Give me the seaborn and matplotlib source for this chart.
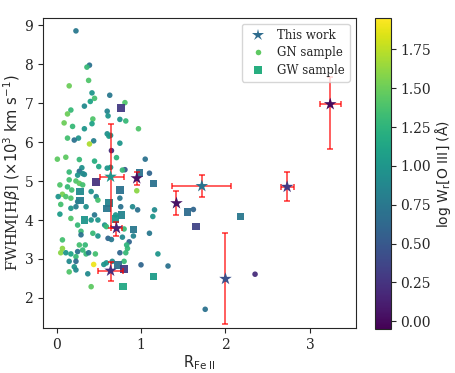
import numpy as np
import pandas as pd
import matplotlib
matplotlib.use("Agg")
import matplotlib.pyplot as plt
import seaborn as sns
from matplotlib.colors import Normalize
from matplotlib.cm import ScalarMappable
from matplotlib.lines import Line2D

# ---- GN sample (circles): R_FeII, FWHM, logW
gn_x = [0.23,0.39,0.36,0.38,0.15,0.42,0.45,0.40,0.63,0.81,0.33,0.17,0.13,0.60,0.61,0.43,0.75,0.82,0.09,0.42,
        0.19,0.33,0.97,0.60,0.62,0.64,0.13,0.26,0.21,0.44,0.39,0.75,0.65,0.01,0.11,0.27,0.45,0.71,1.05,0.30,
        0.50,0.60,0.64,0.81,0.15,0.27,0.31,1.10,0.78,
        0.25,0.33,0.15,0.23,0.27,0.31,0.04,0.13,0.18,0.41,0.07,0.02,0.11,0.17,0.47,0.49,0.75,0.25,0.23,0.05,
        0.17,0.04,0.35,0.76,0.90,0.96,1.16,0.70,0.45,0.17,0.41,0.49,1.14,0.25,0.57,0.59,0.80,1.10,0.29,
        0.07,0.29,0.43,0.49,0.61,0.65,0.78,0.86,0.91,0.27,0.34,0.31,0.07,0.05,0.11,0.17,0.25,0.23,0.35,0.38,
        0.46,0.75,0.82,0.84,0.83,1.20,0.15,0.23,0.44,0.56,0.59,0.66,0.80,1.00,0.15,0.21,0.23,0.37,0.41,1.32,
        1.62,1.76,2.35,0.95]
gn_y = [8.85,7.97,7.92,7.58,7.44,7.26,7.12,7.04,7.20,7.01,6.92,6.82,6.72,6.79,6.67,6.59,6.58,6.54,6.49,6.47,
        6.40,6.34,6.34,6.21,6.15,6.17,6.10,6.10,6.05,6.03,5.95,5.97,5.78,5.56,5.61,5.55,5.51,5.60,5.56,5.34,
        5.37,5.33,5.35,5.29,5.23,5.25,5.19,5.20,5.28,
        5.15,5.17,5.03,5.00,4.94,4.90,4.90,4.85,4.77,4.73,4.66,4.60,4.60,4.56,4.60,4.51,4.56,4.47,4.34,4.40,
        4.30,4.15,4.34,4.34,4.34,4.26,4.26,4.13,4.13,4.04,4.00,4.00,4.09,3.87,3.87,3.83,3.77,3.66,3.71,
        3.49,3.62,3.66,3.59,3.53,3.50,3.56,3.44,3.59,3.36,3.36,3.23,3.27,3.16,3.16,3.13,3.19,3.06,3.13,3.16,
        3.13,3.16,3.16,3.27,3.36,3.13,2.94,2.94,2.86,2.86,2.90,2.94,2.94,2.85,2.67,2.80,2.72,2.62,2.29,2.82,
        4.27,1.71,2.61,4.75]
gn_c = [0.75,0.70,1.30,1.40,1.50,1.00,1.35,1.10,0.75,1.40,0.90,1.30,1.50,0.85,1.00,1.40,1.00,1.30,1.50,1.10,
        1.30,1.00,1.40,0.95,1.05,1.00,1.35,1.00,0.70,0.80,1.70,1.00,0.20,1.45,1.45,1.30,1.20,1.25,0.70,0.95,
        1.15,1.00,1.00,0.50,1.30,0.70,0.90,0.60,1.30,
        1.00,0.90,1.35,1.40,1.45,1.35,1.40,1.30,1.35,0.95,1.55,1.00,1.40,1.40,0.90,1.35,0.75,0.75,0.80,1.35,
        1.00,1.05,0.95,0.70,0.90,0.70,0.90,1.00,0.75,1.40,1.00,1.00,1.00,1.30,1.00,1.30,1.30,0.75,1.30,
        1.35,0.70,1.30,1.00,0.60,0.75,0.90,0.60,0.85,1.35,1.30,1.30,1.60,1.60,1.00,1.10,0.70,1.30,1.30,0.75,
        1.35,0.60,1.30,1.30,1.25,1.00,0.90,0.65,1.90,1.00,1.00,0.90,1.30,0.60,1.40,1.00,0.90,0.90,1.45,0.70,
        0.60,0.70,0.20,1.60]

# ---- GW sample (squares)
gw_x = [0.76,0.98,0.47,1.15,1.55,1.65,0.75,0.28,0.28,0.62,0.60,0.77,0.33,0.70,0.91,0.73,0.80,1.15,0.79,2.18]
gw_y = [6.87,5.21,4.98,4.94,4.21,3.83,4.77,4.73,4.50,4.43,4.30,4.13,4.00,4.02,3.76,2.85,2.74,2.55,2.29,4.09]
gw_c = [0.30,0.70,0.25,0.70,0.65,0.35,0.70,0.90,0.80,0.85,0.75,0.85,1.00,1.00,0.75,0.70,0.30,1.05,1.15,0.75]

# ---- This work (stars) with asymmetric errors
tw_x = [0.64,0.95,1.72,1.42,0.71,0.64,2.73,2.00,3.24]
tw_y = [5.11,5.07,4.87,4.43,3.79,2.70,4.85,2.49,6.97]
tw_c = [1.00,0.05,0.70,0.05,0.15,0.20,0.30,0.45,0.00]
tw_xerr_lo = [0.13,0.00,0.35,0.00,0.06,0.15,0.07,0.00,0.12]
tw_xerr_hi = [0.16,0.00,0.35,0.00,0.06,0.15,0.08,0.00,0.13]
tw_yerr_lo = [1.32,0.17,0.27,0.30,0.20,0.26,0.36,1.16,1.15]
tw_yerr_hi = [1.35,0.17,0.28,0.31,0.17,0.23,0.37,1.17,0.69]

xticks = [0, 1, 2, 3]
yticks = [2, 3, 4, 5, 6, 7, 8, 9]
cbar_ticks = [0.00, 0.25, 0.50, 0.75, 1.00, 1.25, 1.50, 1.75]

sns.set_style("ticks")
plt.rcParams['font.family'] = ['DejaVu Serif']
plt.rcParams['mathtext.fontset'] = 'dejavusans'

gn = pd.DataFrame({"x": gn_x, "y": gn_y, "c": gn_c})
gw = pd.DataFrame({"x": gw_x, "y": gw_y, "c": gw_c})
tw = pd.DataFrame({"x": tw_x, "y": tw_y, "c": tw_c})

vmin, vmax = -0.05, 1.95
norm = Normalize(vmin, vmax)
cmap = plt.get_cmap("viridis")

fig = plt.figure(figsize=(4.55, 3.73), dpi=100)
ax = fig.add_axes([0.0945, 0.1206, 0.687, 0.8311])
cax = fig.add_axes([0.8235, 0.118, 0.0352, 0.833])

sns.scatterplot(data=gn, x="x", y="y", hue="c", palette="viridis", hue_norm=norm,
                marker="o", s=16, linewidth=0, alpha=0.95, legend=False, ax=ax, zorder=2)
sns.scatterplot(data=gw, x="x", y="y", hue="c", palette="viridis", hue_norm=norm,
                marker="s", s=30, linewidth=0, alpha=0.95, legend=False, ax=ax, zorder=3)
ax.errorbar(tw_x, tw_y, xerr=[tw_xerr_lo, tw_xerr_hi], yerr=[tw_yerr_lo, tw_yerr_hi],
            fmt="none", ecolor="red", elinewidth=1.1, capsize=2, capthick=1.1, alpha=0.8, zorder=4)
sns.scatterplot(data=tw, x="x", y="y", hue="c", palette="viridis", hue_norm=norm,
                marker="*", s=90, linewidth=0, legend=False, ax=ax, zorder=5)

ax.set_xlim(-0.16, 3.54)
ax.set_ylim(1.23, 9.18)
ax.set_xticks(xticks)
ax.set_yticks(yticks)
ax.tick_params(labelsize=10, length=3.5)
ax.set_xlabel(r"$\mathrm{R_{Fe\ II}}$", fontsize=10.5, labelpad=1)
ax.set_ylabel(r"FWHM[H$\beta$] $(\times10^3\ \mathrm{km\ s^{-1}})$", fontsize=10.5, labelpad=1)

handles = [
    Line2D([], [], marker="*", linestyle="none", markersize=9, color=cmap(norm(0.65)), markeredgewidth=0),
    Line2D([], [], marker="o", linestyle="none", markersize=4, color=cmap(norm(1.45)), markeredgewidth=0),
    Line2D([], [], marker="s", linestyle="none", markersize=6, color=cmap(norm(1.2)), markeredgewidth=0),
]
ax.legend(handles, ["This work", "GN sample", "GW sample"], loc="upper right",
          fontsize=8.5, handletextpad=0.6, borderpad=0.4, labelspacing=0.4, framealpha=0.8)

sm = ScalarMappable(norm=norm, cmap=cmap)
cb = fig.colorbar(sm, cax=cax, ticks=cbar_ticks)
cb.ax.tick_params(labelsize=10)
cb.set_label(r"$\mathrm{log\ W_r[O\ III]\ (\AA)}$", fontsize=10, labelpad=1)

fig.savefig("out.png", dpi=100)
